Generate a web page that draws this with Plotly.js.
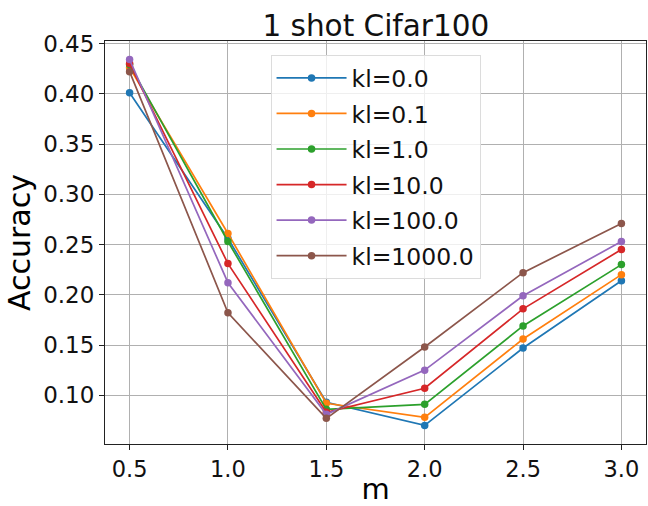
<!DOCTYPE html>
<html><head><meta charset="utf-8">
<script src="https://cdn.plot.ly/plotly-3.0.1.min.js"></script>
<style>html,body{margin:0;padding:0;background:#fff}</style>
</head><body>
<div id="chart" style="width:648px;height:506px"></div>
<script>
const mValues = [0.5, 1.0, 1.5, 2.0, 2.5, 3.0];
const seriesNames = ["kl=0.0", "kl=0.1", "kl=1.0", "kl=10.0", "kl=100.0", "kl=1000.0"];
const kl0    = [0.401, 0.256, 0.093, 0.070, 0.147, 0.214];
const kl0_1  = [0.426, 0.261, 0.092, 0.078, 0.156, 0.220];
const kl1    = [0.429, 0.253, 0.086, 0.091, 0.169, 0.230];
const kl10   = [0.430, 0.231, 0.083, 0.107, 0.186, 0.245];
const kl100  = [0.434, 0.212, 0.081, 0.125, 0.199, 0.253];
const kl1000 = [0.422, 0.182, 0.077, 0.148, 0.222, 0.271];
const yTicks = [0.10, 0.15, 0.20, 0.25, 0.30, 0.35, 0.40, 0.45];
const xTicks = [0.5, 1.0, 1.5, 2.0, 2.5, 3.0];
const colors = ["#1f77b4", "#ff7f0e", "#2ca02c", "#d62728", "#9467bd", "#8c564b"];
const allSeries = [kl0, kl0_1, kl1, kl10, kl100, kl1000];

const traces = allSeries.map((ys, i) => ({
  x: mValues, y: ys, name: seriesNames[i], type: "scatter", mode: "lines+markers",
  legendgroup: "g" + i,
  line: {color: colors[i], width: 1.7},
  marker: {color: colors[i], size: 7.5}
}));

const font = "DejaVu Sans, sans-serif";
const layout = {
  width: 648, height: 506,
  margin: {l: 105, r: 2, t: 41, b: 62},
  paper_bgcolor: "#fff", plot_bgcolor: "#fff",
  title: {text: "1 shot Cifar100", font: {family: font, size: 29.5, color: "#111"}, x: 0.58, xanchor: "center", y: 0.95, yanchor: "middle"},
  font: {family: font, color: "#000"},
  xaxis: {
    range: [0.375, 3.125], tickvals: xTicks, ticktext: xTicks.map(v => v.toFixed(1)),
    showgrid: true, gridcolor: "#b0b0b0", gridwidth: 1,
    zeroline: false, showline: true, linecolor: "#222", linewidth: 1, mirror: true,
    ticks: "outside", ticklen: 5, tickcolor: "#222",
    tickfont: {family: font, size: 22.5, color: "#111"},
    title: {text: "m", font: {family: font, size: 29, color: "#000"}, standoff: 9}
  },
  yaxis: {
    range: [0.0515, 0.4525], tickvals: yTicks, ticktext: yTicks.map(v => v.toFixed(2)),
    showgrid: true, gridcolor: "#b0b0b0", gridwidth: 1,
    zeroline: false, showline: true, linecolor: "#222", linewidth: 1, mirror: true,
    ticks: "outside", ticklen: 5, tickcolor: "#222",
    tickfont: {family: font, size: 23, color: "#111"},
    title: {text: "Accuracy", font: {family: font, size: 30, color: "#000"}, standoff: 3}
  },
  showlegend: true,
  legend: {
    x: 0.306, y: 0.965, xanchor: "left", yanchor: "top",
    bgcolor: "rgba(255,255,255,0.8)", bordercolor: "#dcdcdc", borderwidth: 1,
    font: {family: font, size: 23.5, color: "#111"},
    traceorder: "grouped", tracegroupgap: 2, itemwidth: 70
  }
};
Plotly.newPlot("chart", traces, layout, {displayModeBar: false, staticPlot: true});
</script>
</body></html>
